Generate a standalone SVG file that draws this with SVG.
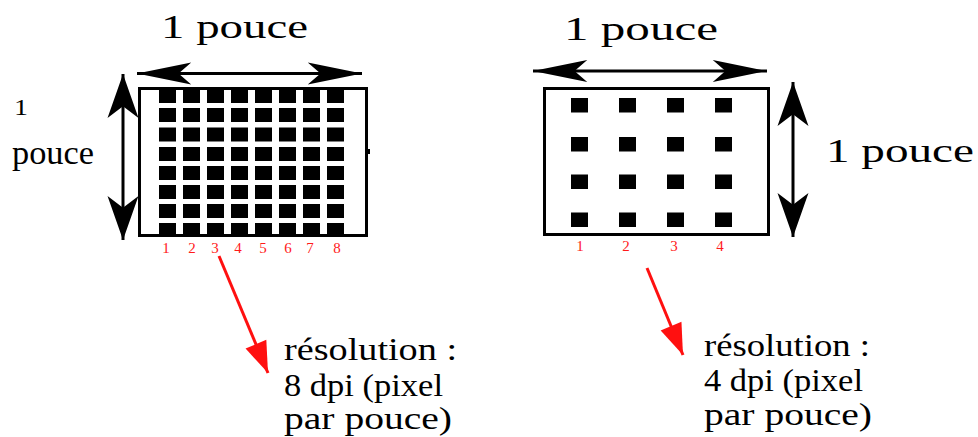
<svg xmlns="http://www.w3.org/2000/svg" width="978" height="437" viewBox="0 0 978 437">
  <style>
    .lbl { font-family: 'Liberation Serif', 'DejaVu Serif', 'Noto Serif', 'Times New Roman', serif; fill: #000; }
    .num { font-family: 'Liberation Serif', 'DejaVu Serif', 'Noto Serif', 'Times New Roman', serif; font-size: 15px; fill: #ff1a1a; text-anchor: middle; }
    .frame { fill: #fff; stroke: #000; stroke-width: 3; }
    .px { fill: #000; }
    .dim { stroke: #000; stroke-width: 3; fill: none; }
    .ptr { stroke: #ff1010; stroke-width: 3; fill: none; }
  </style>
  <defs>
    <!-- long barbed head for horizontal dimension arrows -->
    <marker id="headH" markerUnits="userSpaceOnUse" markerWidth="60" markerHeight="30" viewBox="-50 -12 52 24" refX="0" refY="0" orient="auto-start-reverse" overflow="visible">
      <path d="M0,0 L-47,-9.5 L-36,0 L-47,9.5 Z" fill="#000"/>
    </marker>
    <!-- wider head for vertical dimension arrows -->
    <marker id="headV" markerUnits="userSpaceOnUse" markerWidth="50" markerHeight="40" viewBox="-40 -15 42 30" refX="0" refY="0" orient="auto-start-reverse" overflow="visible">
      <path d="M0,0 L-37,-13 L-27,0 L-37,13 Z" fill="#000"/>
    </marker>
    <!-- solid head for the red pointers -->
    <marker id="headR" markerUnits="userSpaceOnUse" markerWidth="40" markerHeight="30" viewBox="-30 -12 32 24" refX="0" refY="0" orient="auto" overflow="visible">
      <path d="M0,0 L-25,-9 L-25,9 Z" fill="#ff1010"/>
    </marker>
  </defs>

  <!-- 8 dpi grid -->
  <g id="grid8">
    <rect class="frame" x="139.5" y="88.5" width="227" height="147"/>
    <rect class="px" x="367" y="149" width="3" height="5"/>
    <g class="px">
      <rect x="159" y="89" width="17" height="14"/><rect x="183" y="89" width="17" height="14"/><rect x="207" y="89" width="17" height="14"/><rect x="231" y="89" width="17" height="14"/><rect x="255" y="89" width="17" height="14"/><rect x="279" y="89" width="17" height="14"/><rect x="303" y="89" width="17" height="14"/><rect x="327" y="89" width="17" height="14"/>
      <rect x="159" y="108" width="17" height="14"/><rect x="183" y="108" width="17" height="14"/><rect x="207" y="108" width="17" height="14"/><rect x="231" y="108" width="17" height="14"/><rect x="255" y="108" width="17" height="14"/><rect x="279" y="108" width="17" height="14"/><rect x="303" y="108" width="17" height="14"/><rect x="327" y="108" width="17" height="14"/>
      <rect x="159" y="127.5" width="17" height="14"/><rect x="183" y="127.5" width="17" height="14"/><rect x="207" y="127.5" width="17" height="14"/><rect x="231" y="127.5" width="17" height="14"/><rect x="255" y="127.5" width="17" height="14"/><rect x="279" y="127.5" width="17" height="14"/><rect x="303" y="127.5" width="17" height="14"/><rect x="327" y="127.5" width="17" height="14"/>
      <rect x="159" y="147" width="17" height="14"/><rect x="183" y="147" width="17" height="14"/><rect x="207" y="147" width="17" height="14"/><rect x="231" y="147" width="17" height="14"/><rect x="255" y="147" width="17" height="14"/><rect x="279" y="147" width="17" height="14"/><rect x="303" y="147" width="17" height="14"/><rect x="327" y="147" width="17" height="14"/>
      <rect x="159" y="166" width="17" height="14"/><rect x="183" y="166" width="17" height="14"/><rect x="207" y="166" width="17" height="14"/><rect x="231" y="166" width="17" height="14"/><rect x="255" y="166" width="17" height="14"/><rect x="279" y="166" width="17" height="14"/><rect x="303" y="166" width="17" height="14"/><rect x="327" y="166" width="17" height="14"/>
      <rect x="159" y="185" width="17" height="14"/><rect x="183" y="185" width="17" height="14"/><rect x="207" y="185" width="17" height="14"/><rect x="231" y="185" width="17" height="14"/><rect x="255" y="185" width="17" height="14"/><rect x="279" y="185" width="17" height="14"/><rect x="303" y="185" width="17" height="14"/><rect x="327" y="185" width="17" height="14"/>
      <rect x="159" y="204" width="17" height="14"/><rect x="183" y="204" width="17" height="14"/><rect x="207" y="204" width="17" height="14"/><rect x="231" y="204" width="17" height="14"/><rect x="255" y="204" width="17" height="14"/><rect x="279" y="204" width="17" height="14"/><rect x="303" y="204" width="17" height="14"/><rect x="327" y="204" width="17" height="14"/>
      <rect x="159" y="223" width="17" height="14"/><rect x="183" y="223" width="17" height="14"/><rect x="207" y="223" width="17" height="14"/><rect x="231" y="223" width="17" height="14"/><rect x="255" y="223" width="17" height="14"/><rect x="279" y="223" width="17" height="14"/><rect x="303" y="223" width="17" height="14"/><rect x="327" y="223" width="17" height="14"/>
    </g>
    <text class="num" x="166" y="253">1</text>
    <text class="num" x="192" y="253">2</text>
    <text class="num" x="215" y="253">3</text>
    <text class="num" x="238" y="253">4</text>
    <text class="num" x="263" y="253">5</text>
    <text class="num" x="288" y="253">6</text>
    <text class="num" x="310" y="253">7</text>
    <text class="num" x="337" y="253">8</text>
  </g>

  <!-- 4 dpi grid -->
  <g id="grid4">
    <rect class="frame" x="544.5" y="88.5" width="224" height="146"/>
    <g class="px">
      <rect x="571" y="98" width="17" height="14.5"/><rect x="619" y="98" width="17" height="14.5"/><rect x="667" y="98" width="17" height="14.5"/><rect x="715" y="98" width="17" height="14.5"/>
      <rect x="571" y="137" width="17" height="14.5"/><rect x="619" y="137" width="17" height="14.5"/><rect x="667" y="137" width="17" height="14.5"/><rect x="715" y="137" width="17" height="14.5"/>
      <rect x="571" y="174.5" width="17" height="14.5"/><rect x="619" y="174.5" width="17" height="14.5"/><rect x="667" y="174.5" width="17" height="14.5"/><rect x="715" y="174.5" width="17" height="14.5"/>
      <rect x="571" y="212.5" width="17" height="14.5"/><rect x="619" y="212.5" width="17" height="14.5"/><rect x="667" y="212.5" width="17" height="14.5"/><rect x="715" y="212.5" width="17" height="14.5"/>
    </g>
    <text class="num" x="580" y="251">1</text>
    <text class="num" x="626" y="251">2</text>
    <text class="num" x="674" y="251">3</text>
    <text class="num" x="720" y="251">4</text>
  </g>

  <!-- dimension labels -->
  <g id="labels">
    <text class="lbl" x="161" y="38" font-size="34" textLength="147" lengthAdjust="spacingAndGlyphs">1 pouce</text>
    <text class="lbl" x="14" y="115" font-size="24" textLength="14" lengthAdjust="spacingAndGlyphs">1</text>
    <text class="lbl" x="12" y="164" font-size="34" textLength="82" lengthAdjust="spacingAndGlyphs">pouce</text>
    <text class="lbl" x="564" y="40" font-size="34" textLength="154" lengthAdjust="spacingAndGlyphs">1 pouce</text>
    <text class="lbl" x="826" y="162" font-size="34" textLength="148" lengthAdjust="spacingAndGlyphs">1 pouce</text>
  </g>

  <g id="res8">
    <text class="lbl" x="284" y="360" font-size="32" textLength="173" lengthAdjust="spacingAndGlyphs">résolution :</text>
    <text class="lbl" x="284" y="396" font-size="32" textLength="159" lengthAdjust="spacingAndGlyphs">8 dpi (pixel</text>
    <text class="lbl" x="284" y="429" font-size="32" textLength="168" lengthAdjust="spacingAndGlyphs">par pouce)</text>
  </g>

  <g id="res4">
    <text class="lbl" x="704" y="356" font-size="32" textLength="166" lengthAdjust="spacingAndGlyphs">résolution :</text>
    <text class="lbl" x="704" y="391" font-size="32" textLength="159" lengthAdjust="spacingAndGlyphs">4 dpi (pixel</text>
    <text class="lbl" x="704" y="425" font-size="32" textLength="168" lengthAdjust="spacingAndGlyphs">par pouce)</text>
  </g>

  <!-- connectors -->
  <g id="connectors">
    <line class="dim" x1="137" y1="73.5" x2="362" y2="73.5" marker-start="url(#headH)" marker-end="url(#headH)"/>
    <line class="dim" x1="123" y1="74" x2="123" y2="240" marker-start="url(#headV)" marker-end="url(#headV)"/>
    <line class="dim" x1="533" y1="71" x2="767" y2="71" marker-start="url(#headH)" marker-end="url(#headH)"/>
    <line class="dim" x1="793" y1="82" x2="793" y2="237" marker-start="url(#headV)" marker-end="url(#headV)"/>
    <line class="ptr" x1="219" y1="256" x2="268" y2="373" marker-end="url(#headR)"/>
    <line class="ptr" x1="647" y1="268" x2="683" y2="355" marker-end="url(#headR)"/>
  </g>
</svg>
